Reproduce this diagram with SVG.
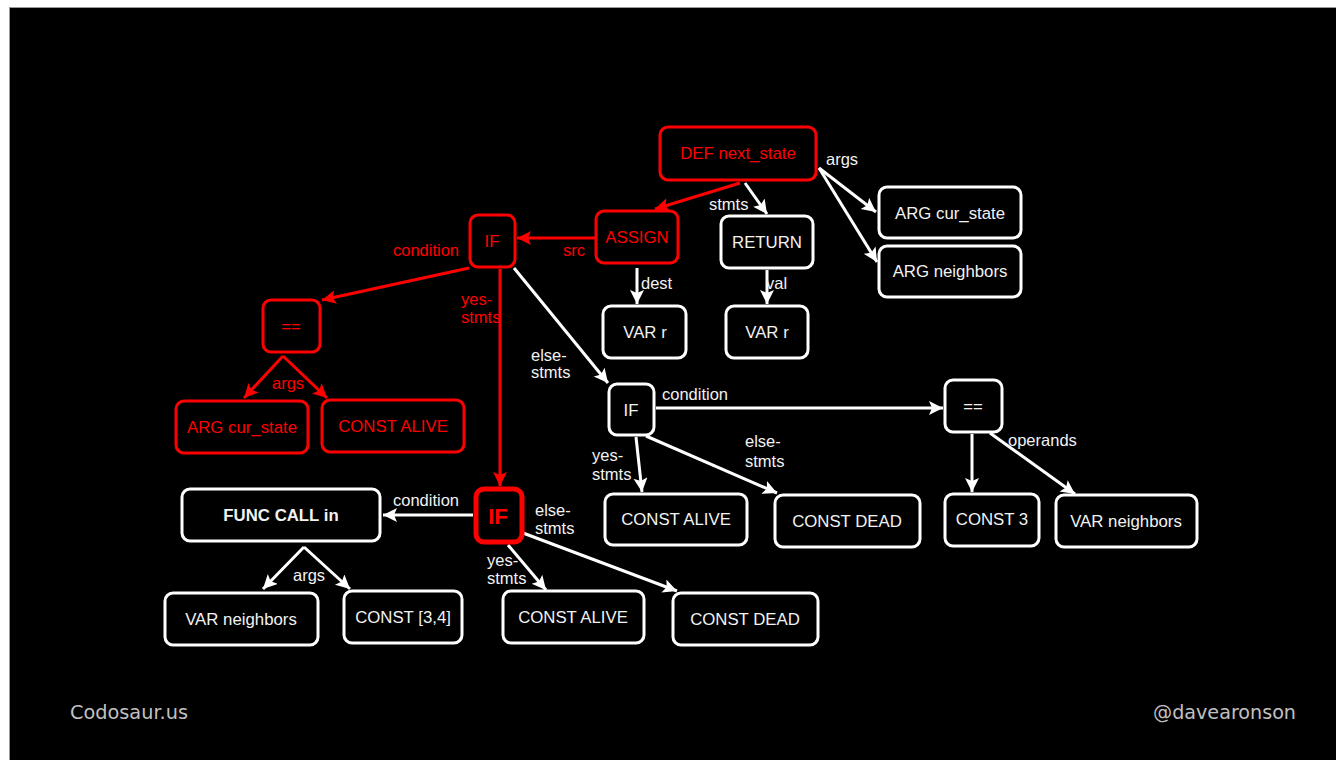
<svg xmlns="http://www.w3.org/2000/svg" width="1336" height="760" viewBox="0 0 1336 760">
<style>
.n rect{fill:#000;stroke:#fff;stroke-width:3}
.r rect{stroke:#f00}
.n text{font-family:"Liberation Sans",Arial,sans-serif;font-size:16.8px;fill:#f2f2f2;text-anchor:middle;dominant-baseline:central}
.r text{fill:#f00}
.e line,.e path{stroke:#fff;stroke-width:3;fill:none;marker-end:url(#aw)}
.e .red{stroke:#f00;marker-end:url(#ar)}
.lbl{font-family:"Liberation Sans",Arial,sans-serif;font-size:16.5px;fill:#f2f2f2}
.lbl.red{fill:#f00}
.foot{font-family:"DejaVu Sans",Verdana,sans-serif;font-size:19px;fill:#c0c0c0}
</style>
<defs>
<marker id="aw" markerUnits="userSpaceOnUse" markerWidth="16" markerHeight="16" refX="14" refY="7" orient="auto"><path d="M0,0 L14,7 L0,14 L3,7 Z" fill="#fff"/></marker>
<marker id="ar" markerUnits="userSpaceOnUse" markerWidth="16" markerHeight="16" refX="14" refY="7" orient="auto"><path d="M0,0 L14,7 L0,14 L3,7 Z" fill="#f00"/></marker>
</defs>
<rect x="0" y="0" width="1336" height="760" fill="#fff"/>
<rect x="9.5" y="7.5" width="1327" height="753" fill="#000" stroke="#999" stroke-width="1"/>

<g id="edges" class="e">
<line class="red" x1="740" y1="183" x2="655" y2="209"/>
<line x1="745" y1="183" x2="767" y2="214"/>
<line x1="819" y1="168" x2="876" y2="212"/>
<line x1="819" y1="168" x2="877" y2="262"/>
<line class="red" x1="596" y1="238" x2="517" y2="238"/>
<line x1="637" y1="268" x2="637" y2="304"/>
<line x1="767" y1="270" x2="767" y2="304"/>
<line class="red" x1="469" y1="268" x2="322" y2="300"/>
<line class="red" x1="500" y1="269" x2="500" y2="486"/>
<line x1="514" y1="268" x2="608" y2="383"/>
<line class="red" x1="283" y1="356" x2="244" y2="398"/>
<line class="red" x1="283" y1="356" x2="327" y2="398"/>
<line x1="656" y1="408" x2="943" y2="408"/>
<line x1="636" y1="437" x2="642" y2="492"/>
<line x1="646" y1="436" x2="777" y2="493"/>
<line x1="972" y1="434" x2="972" y2="492"/>
<line x1="990" y1="433" x2="1075" y2="494"/>
<line x1="473" y1="515" x2="383" y2="515"/>
<line x1="508" y1="545" x2="546" y2="590"/>
<line x1="523" y1="533" x2="677" y2="591"/>
<line x1="304" y1="547" x2="263" y2="589"/>
<line x1="304" y1="547" x2="350" y2="589"/>
</g>

<g id="edge-labels">
<text class="lbl" x="826" y="165">args</text>
<text class="lbl" x="709" y="210">stmts</text>
<text class="lbl red" x="563" y="256">src</text>
<text class="lbl" x="641" y="289">dest</text>
<text class="lbl" x="766" y="289">val</text>
<text class="lbl red" x="393" y="256">condition</text>
<text class="lbl red" x="461" y="305">yes-</text>
<text class="lbl red" x="461" y="323">stmts</text>
<text class="lbl" x="531" y="361">else-</text>
<text class="lbl" x="531" y="378">stmts</text>
<text class="lbl red" x="272" y="389">args</text>
<text class="lbl" x="662" y="400">condition</text>
<text class="lbl" x="592" y="461">yes-</text>
<text class="lbl" x="592" y="480">stmts</text>
<text class="lbl" x="745" y="447">else-</text>
<text class="lbl" x="745" y="467">stmts</text>
<text class="lbl" x="1008" y="446">operands</text>
<text class="lbl" x="393" y="506">condition</text>
<text class="lbl" x="535" y="516">else-</text>
<text class="lbl" x="535" y="534">stmts</text>
<text class="lbl" x="487" y="566">yes-</text>
<text class="lbl" x="487" y="584">stmts</text>
<text class="lbl" x="293" y="581">args</text>
</g>

<g id="def" class="n r"><rect x="660" y="127" width="156" height="53" rx="8"/><text x="738" y="153">DEF next_state</text></g>
<g id="assign" class="n r"><rect x="596" y="211" width="82" height="52" rx="8"/><text x="637" y="237">ASSIGN</text></g>
<g id="if1" class="n r"><rect x="470" y="215" width="45" height="52" rx="8"/><text x="492" y="241">IF</text></g>
<g id="return" class="n"><rect x="721" y="216" width="92" height="52" rx="8"/><text x="767" y="242">RETURN</text></g>
<g id="arg-cur" class="n"><rect x="879" y="187" width="142" height="51" rx="8"/><text x="950" y="213">ARG cur_state</text></g>
<g id="arg-nb" class="n"><rect x="879" y="246" width="142" height="51" rx="8"/><text x="950" y="271">ARG neighbors</text></g>
<g id="var-r1" class="n"><rect x="603" y="306" width="83" height="52" rx="8"/><text x="645" y="332">VAR r</text></g>
<g id="var-r2" class="n"><rect x="726" y="306" width="82" height="52" rx="8"/><text x="767" y="332">VAR r</text></g>
<g id="eq1" class="n r"><rect x="263" y="300" width="57" height="52" rx="8"/><text x="291" y="326">==</text></g>
<g id="arg-cur2" class="n r"><rect x="176" y="401" width="132" height="52" rx="8"/><text x="242" y="427">ARG cur_state</text></g>
<g id="const-alive1" class="n r"><rect x="322" y="400" width="142" height="52" rx="8"/><text x="393" y="426">CONST ALIVE</text></g>
<g id="if2" class="n"><rect x="609" y="384" width="45" height="51" rx="8"/><text x="631" y="410">IF</text></g>
<g id="eq2" class="n"><rect x="945" y="380" width="57" height="52" rx="8"/><text x="973" y="406">==</text></g>
<g id="const-alive2" class="n"><rect x="605" y="494" width="142" height="51" rx="8"/><text x="676" y="519">CONST ALIVE</text></g>
<g id="const-dead2" class="n"><rect x="775" y="495" width="145" height="52" rx="8"/><text x="847" y="521">CONST DEAD</text></g>
<g id="const-3" class="n"><rect x="945" y="494" width="94" height="52" rx="8"/><text x="992" y="519">CONST 3</text></g>
<g id="var-nb1" class="n"><rect x="1056" y="495" width="141" height="52" rx="8"/><text x="1126" y="521">VAR neighbors</text></g>
<g id="funccall" class="n"><rect x="182" y="489" width="198" height="52" rx="8"/><text x="281" y="515" font-weight="bold">FUNC CALL in</text></g>
<g id="if3" class="n r"><rect x="476" y="489" width="46" height="53" rx="8" style="stroke-width:5"/><text x="498" y="516" style="font-size:22px;font-weight:bold">IF</text></g>
<g id="var-nb2" class="n"><rect x="165" y="593" width="153" height="52" rx="8"/><text x="241" y="619">VAR neighbors</text></g>
<g id="const-34" class="n"><rect x="344" y="591" width="118" height="52" rx="8"/><text x="403" y="617">CONST [3,4]</text></g>
<g id="const-alive3" class="n"><rect x="503" y="591" width="141" height="52" rx="8"/><text x="573" y="617">CONST ALIVE</text></g>
<g id="const-dead3" class="n"><rect x="673" y="593" width="145" height="52" rx="8"/><text x="745" y="619">CONST DEAD</text></g>

<text class="foot" x="70" y="719" textLength="118" lengthAdjust="spacingAndGlyphs">Codosaur.us</text>
<text class="foot" x="1153" y="719" textLength="143" lengthAdjust="spacingAndGlyphs">@davearonson</text>
</svg>
